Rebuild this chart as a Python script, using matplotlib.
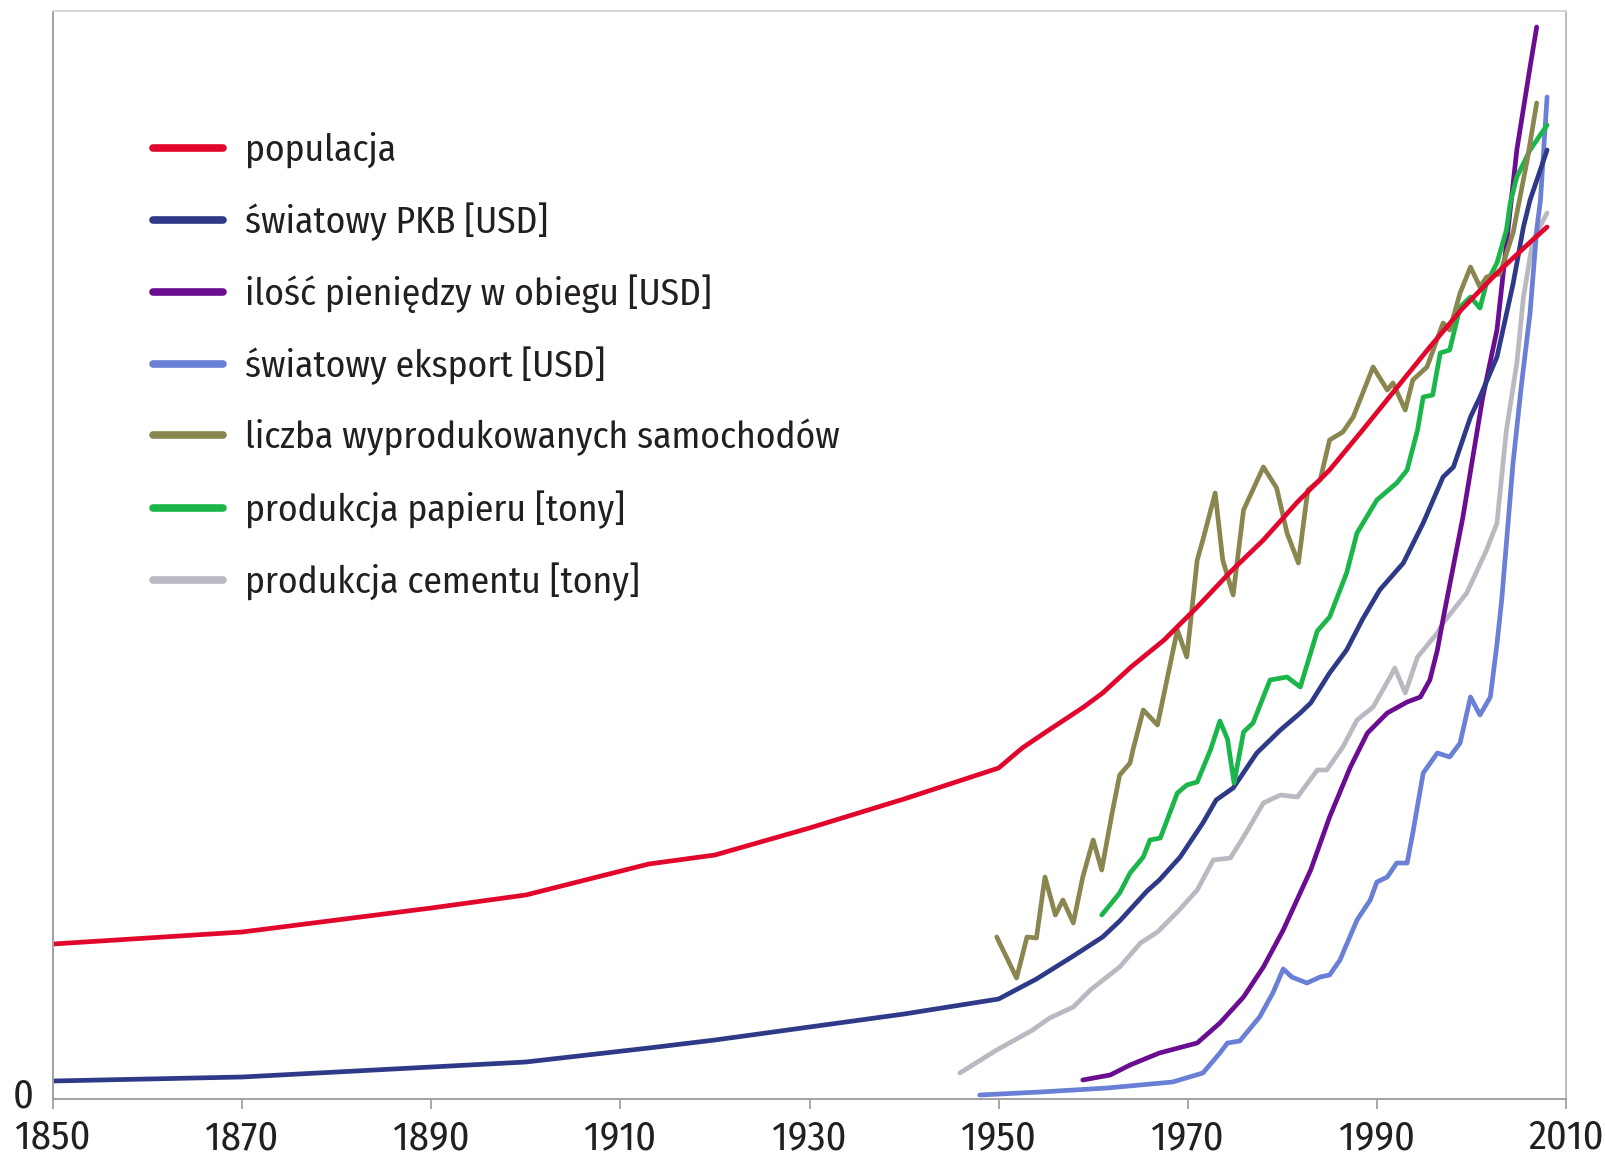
import matplotlib
matplotlib.use("Agg")
from matplotlib import pyplot as plt

# values (arbitrary units, 0 = bottom of axes)
pop_years = [1850, 1870, 1890, 1900, 1913, 1920, 1930, 1940, 1950, 1952.5, 1955, 1959, 1961, 1964,
             1967.5, 1971, 1974.5, 1978, 1981.6, 1985, 1988.5, 1992, 1995.6, 1999, 2002.7, 2006, 2008]
pop_vals = [155, 167, 191, 204, 235, 244, 271, 300, 331, 351, 367, 392, 406, 432,
            459, 492, 527, 559, 597, 629, 669, 710, 752, 790, 826, 855, 872]

gdp_years = [1850, 1870, 1900, 1913, 1920, 1930, 1940, 1950, 1954, 1957.9, 1961, 1962.8, 1965.7, 1967,
             1969.2, 1971.6, 1973, 1974.8, 1977.3, 1979.8, 1981.9, 1983, 1985, 1986.8, 1988.5, 1990.3,
             1992.8, 1994.9, 1997, 1998.1, 1999.9, 2000.9, 2002.7, 2004.4, 2005.5, 2006.2, 2008]
gdp_vals = [18, 22, 37, 51, 59, 72, 85, 100, 120, 143, 162, 178, 208, 219,
            242, 276, 299, 311, 346, 369, 386, 396, 426, 449, 480, 509,
            536, 576, 622, 632, 682, 702, 742, 815, 872, 899, 949]

money_years = [1958.9, 1961.8, 1963.9, 1967, 1971, 1973.4, 1975.9, 1978, 1980.1, 1983, 1985, 1987.2,
               1989, 1991.1, 1993.2, 1994.6, 1995.6, 1996.4, 1997, 1999.1, 2001.2, 2002.7, 2003.7,
               2004.8, 2006.2, 2006.9]
money_vals = [19, 24, 34, 46, 56, 76, 102, 132, 169, 229, 282, 332,
              366, 386, 397, 402, 419, 449, 480, 582, 702, 769, 855,
              949, 1032, 1072]

export_years = [1948, 1954.4, 1961.5, 1968.4, 1971.6, 1973.4, 1974.2, 1975.5, 1977.6, 1979, 1980.1, 1981,
                1982.6, 1984, 1985, 1986.1, 1987.9, 1989.3, 1990, 1991.1, 1992.1, 1993.2, 1993.8, 1994.9,
                1996.4, 1997.7, 1998.8, 1999.9, 2000.9, 2002, 2002.7, 2003.2, 2004.4, 2005.3, 2006.2,
                2006.9, 2007.3, 2008]
export_vals = [4, 7, 11, 17, 26, 46, 56, 58, 82, 106, 130, 122,
               116, 122, 124, 139, 179, 199, 217, 222, 236, 236, 266, 326,
               346, 342, 356, 402, 384, 402, 455, 499, 636, 715, 786,
               869, 899, 1002]

cars_years = [1949.8, 1951.9, 1953, 1954, 1954.9, 1956, 1956.8, 1957.9, 1958.9, 1960, 1960.9, 1962,
              1962.8, 1963.9, 1964.2, 1965.3, 1966.8, 1968.9, 1969.9, 1971, 1971.6, 1972.9, 1973.7,
              1974.8, 1975.9, 1978, 1979.4, 1980.5, 1981.7, 1982.7, 1984, 1985, 1986.4, 1987.5, 1989.6,
              1991.1, 1991.7, 1993, 1993.8, 1995.3, 1997, 1997.7, 1998.8, 1999.9, 2000.9, 2001.6, 2003,
              2004.4, 2005.9, 2006.9]
cars_vals = [162, 121, 162, 161, 222, 184, 199, 176, 222, 259, 229, 286,
             324, 336, 349, 389, 374, 469, 442, 539, 559, 606, 539,
             504, 589, 632, 611, 566, 536, 609, 619, 659, 667, 682, 732,
             709, 716, 689, 719, 732, 776, 769, 806, 832, 812, 822, 825,
             866, 939, 996]

paper_years = [1960.9, 1962.8, 1963.9, 1965.3, 1966, 1967.1, 1968.9, 1969.9, 1971, 1972.4, 1973.4, 1974.2,
               1974.9, 1975.9, 1976.9, 1978.7, 1980.5, 1981.9, 1983.7, 1985, 1986.8, 1987.9, 1990, 1992.1,
               1993.2, 1994.3, 1994.9, 1995.9, 1996.7, 1997.7, 1998.8, 1999.9, 2000.9, 2001.6, 2002.7,
               2003.7, 2004.1, 2004.8, 2006.2, 2008]
paper_vals = [184, 206, 226, 242, 259, 261, 306, 314, 317, 349, 378, 360,
              316, 367, 376, 419, 422, 412, 468, 482, 526, 566, 599, 616,
              629, 669, 702, 704, 746, 749, 792, 802, 791, 816, 836,
              869, 896, 922, 949, 974]

cement_years = [1945.9, 1949.8, 1953.6, 1955.4, 1957.9, 1959.7, 1962.8, 1965, 1966.8, 1969, 1971, 1972.7,
                1974.5, 1975.9, 1978, 1979.8, 1981.6, 1983.7, 1984.7, 1986.4, 1987.9, 1989.6, 1991.4,
                1991.9, 1993, 1994.3, 1996.4, 1997, 1999.5, 2001.6, 2002.7, 2003.7, 2004.8, 2005.5,
                2006.5, 2008]
cement_vals = [26, 49, 69, 81, 92, 109, 132, 156, 167, 188, 209, 239,
               241, 262, 296, 304, 302, 329, 329, 352, 379, 392, 422,
               431, 406, 442, 466, 476, 506, 549, 576, 669, 736, 802,
               859, 886]

labels = ["populacja", "światowy PKB [USD]", "ilość pieniędzy w obiegu [USD]",
          "światowy eksport [USD]", "liczba wyprodukowanych samochodów",
          "produkcja papieru [tony]", "produkcja cementu [tony]"]
colors = ["#e2062c", "#2e3a87", "#6a0d91", "#6a7fd6", "#8a8650", "#1ab64a", "#b9b9c1"]

series = [(pop_years, pop_vals), (gdp_years, gdp_vals), (money_years, money_vals),
          (export_years, export_vals), (cars_years, cars_vals), (paper_years, paper_vals),
          (cement_years, cement_vals)]

plt.rcParams['font.family'] = ['Fira Sans Condensed', 'DejaVu Sans']
txt = '#231f20'

fig = plt.figure(figsize=(16.06, 11.57), dpi=100)
ax = fig.add_axes([53 / 1606, 1 - 1099 / 1157, 1513 / 1606, 1088 / 1157])

# draw order: back to front roughly like the original
order = [6, 3, 2, 1, 5, 4, 0]
lines = {}
for i in order:
    xs, ys = series[i]
    ln, = ax.plot(xs, ys, color=colors[i], lw=3.4, solid_joinstyle='round',
                  solid_capstyle='round', label=labels[i])
    lines[i] = ln

ax.set_xlim(1850, 2010)
ax.set_ylim(0, 1088)
ax.set_xticks(range(1850, 2011, 20))
ax.set_yticks([7])
ax.set_yticklabels(['0'])
ax.tick_params(axis='x', length=7, width=1.3, color='#a0a0a8', labelsize=29,
               labelcolor=txt, pad=7)
ax.tick_params(axis='y', length=0, labelsize=29, labelcolor=txt, pad=14)

for s in ['left', 'bottom']:
    ax.spines[s].set_color('#a0a0a8')
    ax.spines[s].set_linewidth(1.4)
ax.spines['top'].set_color('#d4d4da')
ax.spines['right'].set_color('#bdbdc5')
ax.spines['top'].set_linewidth(1.4)
ax.spines['right'].set_linewidth(1.4)

leg = ax.legend([lines[i] for i in range(7)], labels, loc='upper left',
                bbox_to_anchor=(153 / 1606, 1 - 132 / 1157), bbox_transform=fig.transFigure,
                frameon=False, fontsize=27, handlelength=1.87, handletextpad=0.59,
                labelspacing=0.90, borderpad=0, borderaxespad=0)
for h in leg.legend_handles:
    h.set_linewidth(5.5)
    h.set_solid_capstyle('round')
for t in leg.get_texts():
    t.set_color(txt)

fig.savefig("out.png", dpi=100)
